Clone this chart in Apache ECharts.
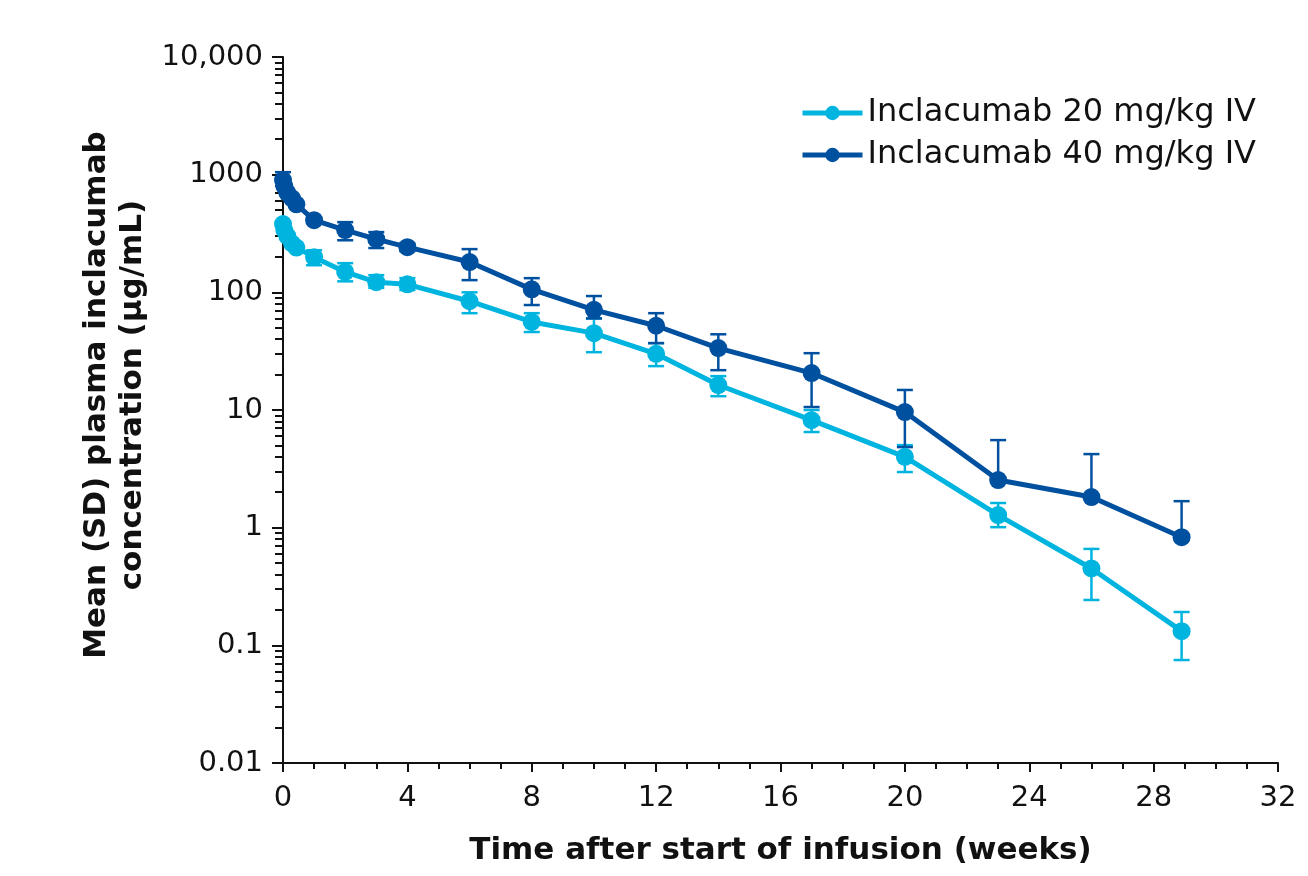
<!DOCTYPE html>
<html>
<head>
<meta charset="utf-8">
<script src="https://cdn.jsdelivr.net/npm/echarts@6/dist/echarts.min.js"></script>
<style>
  html, body { margin: 0; padding: 0; background: #fff; }
  #chart { width: 1308px; height: 876px; }
</style>
</head>
<body>
<div id="chart"></div>
<script>
// time after start of infusion (weeks)
var weeks = [0, 0.04, 0.14, 0.29, 0.43, 1, 2, 3, 4, 6, 8, 10, 12, 14, 17, 20, 23, 26, 28.9];

// 20 mg/kg: mean and SD limits (null = no bar visible)
var mean20 = [380, 340, 300, 260, 240, 199, 149, 122, 117, 84, 56, 45, 30, 16.3, 8.2, 4.0, 1.28, 0.45, 0.132];
var hi20   = [null, null, null, null, null, 228, 177, 140, 132, 100, 66.5, 60, 37, 19.4, 10, 5.03, 1.62, 0.66, 0.192];
var lo20   = [null, null, null, null, null, 170, 124, 109, 104.5, 66.5, 46, 31, 23.6, 13.1, 6.5, 2.97, 1.01, 0.243, 0.075];

// 40 mg/kg
var mean40 = [900, 800, 700, 630, 560, 410, 338, 283, 242, 181, 106, 71, 52, 33.6, 20.6, 9.6, 2.54, 1.82, 0.83];
var hi40   = [1050, null, null, null, null, null, 395, 325, 262, 233, 132, 93, 66.5, 44, 30.4, 14.8, 5.55, 4.22, 1.68];
var lo40   = [null, null, null, null, null, null, 277, 238, 224, 127, 78, 60, 37, 21.8, 10.6, 4.84, null, null, null];

var yTicks = [0.01, 0.1, 1, 10, 100, 1000, 10000];
var yMinor = [];
for (var d = 0.01; d < 10000; d *= 10) {
    for (var k = 2; k <= 9; k++) yMinor.push(+(d * k).toPrecision(3));
}

var light = '#00b4e0';
var dark = '#0050a0';
var font = 'DejaVu Sans';

function pairs(m) {
    return weeks.map(function (w, i) { return [w, m[i]]; });
}
function errRows(m, lo, hi) {
    return weeks.map(function (w, i) {
        return [w, m[i], lo[i] == null ? m[i] : lo[i], hi[i] == null ? m[i] : hi[i]];
    });
}

function renderErr(color) {
    return function (params, api) {
        var x = api.value(0), m = api.value(1), lo = api.value(2), hi = api.value(3);
        if (lo === m && hi === m) return;
        var pl = api.coord([x, lo]);
        var ph = api.coord([x, hi]);
        var w = 8;
        var style = { stroke: color, lineWidth: 2.5 };
        var kids = [{ type: 'line', shape: { x1: pl[0], y1: pl[1], x2: ph[0], y2: ph[1] }, style: style }];
        if (hi !== m) kids.push({ type: 'line', shape: { x1: ph[0] - w, y1: ph[1], x2: ph[0] + w, y2: ph[1] }, style: style });
        if (lo !== m) kids.push({ type: 'line', shape: { x1: pl[0] - w, y1: pl[1], x2: pl[0] + w, y2: pl[1] }, style: style });
        return { type: 'group', children: kids };
    };
}

var chart = echarts.init(document.getElementById('chart'));

chart.setOption({
    animation: false,
    textStyle: { fontFamily: font },
    grid: { left: 283, right: 30, top: 57, bottom: 113 },
    legend: {
        data: ['Inclacumab 20 mg/kg IV', 'Inclacumab 40 mg/kg IV'],
        orient: 'vertical',
        left: 795,
        top: 92,
        itemWidth: 60,
        itemHeight: 18,
        itemGap: 10,
        lineStyle: { width: 5 },
        textStyle: { fontSize: 32, color: '#111', fontFamily: font }
    },
    xAxis: {
        type: 'value',
        min: 0,
        max: 32,
        interval: 4,
        name: 'Time after start of infusion (weeks)',
        nameLocation: 'middle',
        nameGap: 72,
        nameTextStyle: { fontSize: 31, fontWeight: 'bold', color: '#111' },
        axisLine: { onZero: false, lineStyle: { color: '#111', width: 2 } },
        axisTick: { length: 9, lineStyle: { color: '#111', width: 2 } },
        minorTick: { show: true, splitNumber: 4, length: 6, lineStyle: { color: '#111', width: 2 } },
        axisLabel: { fontSize: 29, color: '#111', margin: 21 },
        splitLine: { show: false }
    },
    yAxis: [{
        type: 'log',
        logBase: 10,
        min: 0.01,
        max: 10000,
        name: 'Mean (SD) plasma inclacumab\nconcentration (µg/mL)',
        nameLocation: 'middle',
        nameGap: 130,
        nameRotate: 90,
        nameTextStyle: { fontSize: 31, fontWeight: 'bold', color: '#111', lineHeight: 36, padding: [0, 0, 0, 30] },
        axisLine: { onZero: false, lineStyle: { color: '#111', width: 2 } },
        axisTick: { length: 11, customValues: yTicks, lineStyle: { color: '#111', width: 2 } },
        axisLabel: {
            fontSize: 29, color: '#111', margin: 20,
            customValues: yTicks,
            formatter: function (v) { return v >= 10000 ? '10,000' : String(+v.toPrecision(3)); }
        },
        splitLine: { show: false }
    }, {
        type: 'log',
        logBase: 10,
        min: 0.01,
        max: 10000,
        position: 'left',
        axisLine: { show: false },
        axisTick: { length: 8, customValues: yMinor, lineStyle: { color: '#111', width: 2 } },
        axisLabel: { show: false },
        splitLine: { show: false }
    }],
    series: [{
        type: 'custom',
        name: 'err20',
        renderItem: renderErr(light),
        encode: { x: 0, y: [1, 2, 3] },
        data: errRows(mean20, lo20, hi20),
        z: 1
    }, {
        type: 'custom',
        name: 'err40',
        renderItem: renderErr(dark),
        encode: { x: 0, y: [1, 2, 3] },
        data: errRows(mean40, lo40, hi40),
        z: 1
    }, {
        name: 'Inclacumab 20 mg/kg IV',
        type: 'line',
        data: pairs(mean20),
        symbol: 'circle',
        symbolSize: 18,
        lineStyle: { color: light, width: 5 },
        itemStyle: { color: light },
        z: 3
    }, {
        name: 'Inclacumab 40 mg/kg IV',
        type: 'line',
        data: pairs(mean40),
        symbol: 'circle',
        symbolSize: 18,
        lineStyle: { color: dark, width: 5 },
        itemStyle: { color: dark },
        z: 4
    }]
});
</script>
</body>
</html>
